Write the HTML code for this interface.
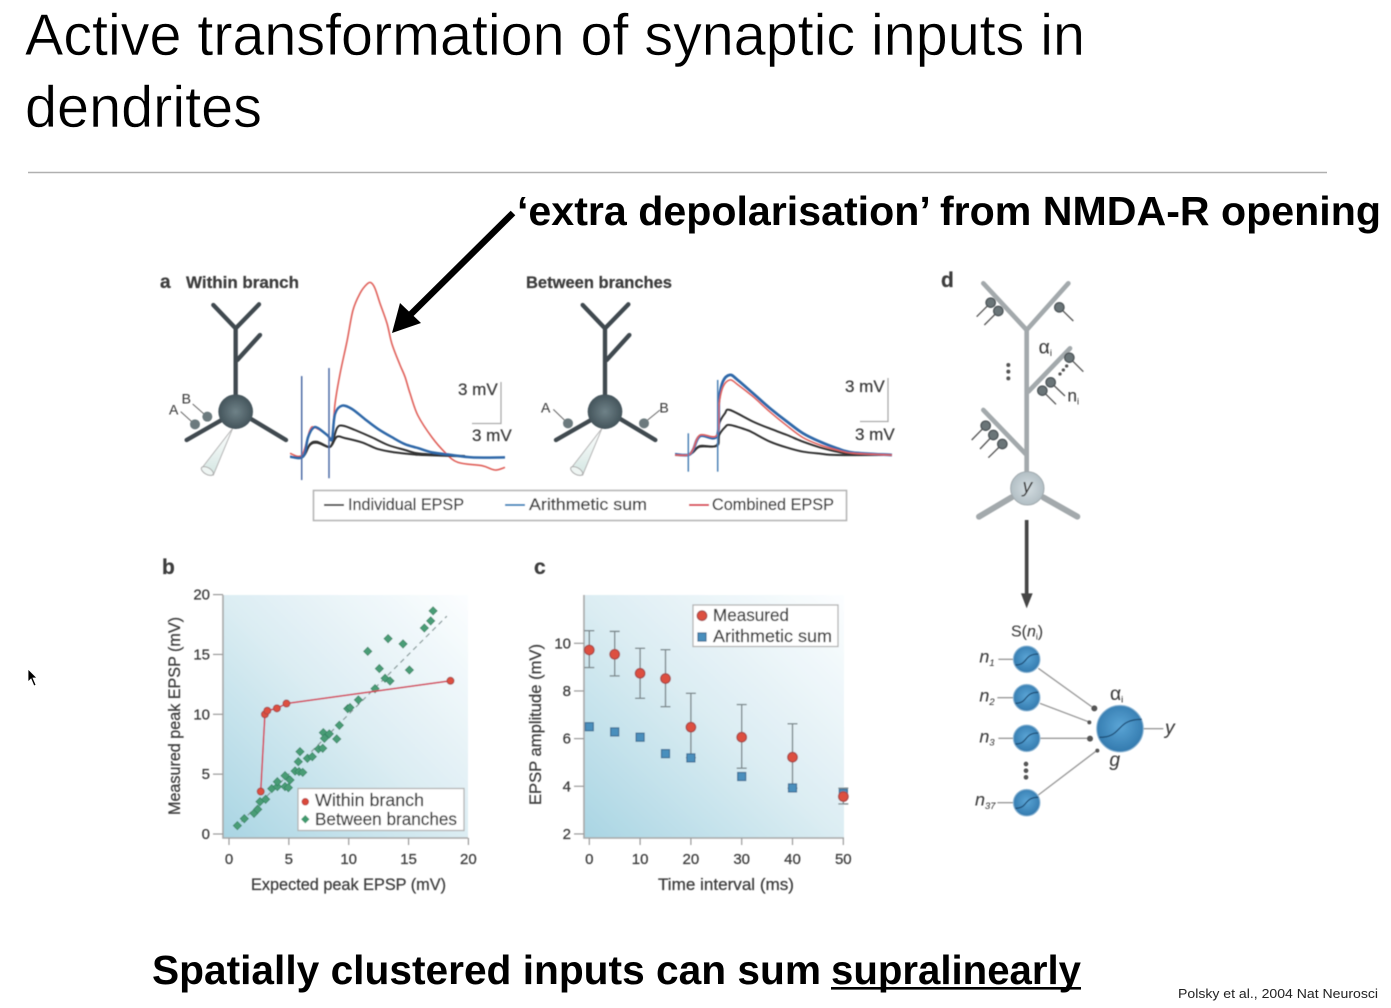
<!DOCTYPE html>
<html lang="en">
<head>
<meta charset="utf-8">
<title>Active transformation of synaptic inputs in dendrites</title>
<style>
html,body{margin:0;padding:0;background:#fff;width:1391px;height:1008px;overflow:hidden}
svg{display:block}
text{font-family:"Liberation Sans",sans-serif}
.fig text{fill:#3c3c3c;stroke:#3c3c3c;stroke-width:0.25px}
</style>
</head>
<body>
<svg id="slide" xmlns="http://www.w3.org/2000/svg" width="1391" height="1008" viewBox="0 0 1391 1008">
<defs>
  <linearGradient id="plotGrad" x1="0" y1="1" x2="1" y2="0">
    <stop offset="0" stop-color="#a9d5e3"/>
    <stop offset="0.22" stop-color="#c0e0ea"/>
    <stop offset="0.5" stop-color="#dcedf3"/>
    <stop offset="1" stop-color="#fcfeff"/>
  </linearGradient>
  <radialGradient id="somaDark" cx="0.5" cy="0.5" r="0.55">
    <stop offset="0" stop-color="#6f8288"/>
    <stop offset="1" stop-color="#3f4f56"/>
  </radialGradient>
  <radialGradient id="somaLight" cx="0.5" cy="0.5" r="0.55">
    <stop offset="0" stop-color="#d5dee2"/>
    <stop offset="1" stop-color="#aebbc1"/>
  </radialGradient>
  <radialGradient id="nodeBlue" cx="0.5" cy="0.45" r="0.6">
    <stop offset="0" stop-color="#5ba5d6"/>
    <stop offset="1" stop-color="#2f76aa"/>
  </radialGradient>
  <linearGradient id="pipette" x1="0" y1="0" x2="0" y2="1">
    <stop offset="0" stop-color="#ffffff"/>
    <stop offset="1" stop-color="#d4e6e2"/>
  </linearGradient>
  <filter id="soft" x="-5%" y="-5%" width="110%" height="110%"><feGaussianBlur stdDeviation="0.5"/></filter>
  <g id="neuron-shape">
    <g stroke="#3f4a50" stroke-width="13" stroke-linecap="round" fill="none">
      <path d="M257 455V205M190 135L257 205L327 133M262 300L330 225M215 480L110 540M300 475L408 540"/>
    </g>
    <polygon points="248,505 155,625 190,645" fill="url(#pipette)" stroke="#b5b5b5" stroke-width="3"/>
    <ellipse cx="172" cy="633" rx="20" ry="10" transform="rotate(30 172 633)" fill="#eef5f3" stroke="#aaa" stroke-width="3"/>
    <circle cx="257" cy="455" r="52" fill="url(#somaDark)"/>
  </g>
</defs>

<text x="25" y="55" font-size="58" fill="#000" stroke="#fff" stroke-width="0.5" textLength="1060" lengthAdjust="spacingAndGlyphs">Active transformation of synaptic inputs in</text>
<text x="25" y="127" font-size="58" fill="#000" stroke="#fff" stroke-width="0.5" textLength="237" lengthAdjust="spacingAndGlyphs">dendrites</text>
<line x1="28" y1="172.5" x2="1327" y2="172.5" stroke="#b0b0b0" stroke-width="1.6"/>

<text x="517" y="225" font-size="41" font-weight="bold" fill="#000" textLength="864" lengthAdjust="spacingAndGlyphs">‘extra depolarisation’ from NMDA-R opening</text>
<g>
  <line x1="513" y1="213" x2="408" y2="317" stroke="#000" stroke-width="6.5"/>
  <polygon points="392,333 400,303 421,323" fill="#000"/>
</g>

<g class="fig" filter="url(#soft)">

  <!-- Panel a -->
  <text x="160" y="288" font-size="19" font-weight="bold">a</text>
  <text x="186" y="288" font-size="17" font-weight="bold" textLength="113" lengthAdjust="spacingAndGlyphs">Within branch</text>
  <text x="526" y="288" font-size="17" font-weight="bold" textLength="146" lengthAdjust="spacingAndGlyphs">Between branches</text>

  <g transform="translate(150,260) scale(0.33333)">
    <use href="#neuron-shape"/>
    <path d="M92 455L125 485M128 432L162 462" stroke="#666" stroke-width="3" fill="none"/>
    <circle cx="135" cy="493" r="15" fill="#6c7a7e"/>
    <circle cx="172" cy="470" r="15" fill="#6c7a7e"/>
    <text x="57" y="464" font-size="42">A</text>
    <text x="95" y="430" font-size="42">B</text>
  </g>
  <g transform="translate(510,260) scale(0.33333) translate(28,0)">
    <use href="#neuron-shape"/>
    <path d="M102 448L135 480M422 450L385 480" stroke="#666" stroke-width="3" fill="none"/>
    <circle cx="146" cy="490" r="15" fill="#6c7a7e"/>
    <circle cx="374" cy="490" r="15" fill="#6c7a7e"/>
    <text x="65" y="458" font-size="42">A</text>
    <text x="420" y="458" font-size="42">B</text>
  </g>

  <g id="traces-within"></g>
  <g id="traces-between"></g>

  <g>
    <path d="M501 382V423.5H472" fill="none" stroke="#aaa" stroke-width="1.3"/>
    <text x="458" y="395" font-size="17">3 mV</text>
    <text x="472" y="441" font-size="17">3 mV</text>
  </g>
  <g>
    <path d="M888 378V421.5H860" fill="none" stroke="#aaa" stroke-width="1.3"/>
    <text x="845" y="392" font-size="17">3 mV</text>
    <text x="855" y="440" font-size="17">3 mV</text>
  </g>

  <g>
    <rect x="313.5" y="490.5" width="533" height="30" fill="#fff" stroke="#b4b4b4" stroke-width="1.6"/>
    <line x1="324" y1="505" x2="344" y2="505" stroke="#444" stroke-width="2"/>
    <text x="348" y="510" font-size="17" textLength="116" lengthAdjust="spacingAndGlyphs">Individual EPSP</text>
    <line x1="505" y1="505" x2="525" y2="505" stroke="#2d86bd" stroke-width="2"/>
    <text x="529" y="510" font-size="17" textLength="118" lengthAdjust="spacingAndGlyphs">Arithmetic sum</text>
    <line x1="689" y1="505" x2="709" y2="505" stroke="#d9384a" stroke-width="2"/>
    <text x="712" y="510" font-size="17" textLength="122" lengthAdjust="spacingAndGlyphs">Combined EPSP</text>
  </g>

  <!-- Panel b -->
  <text x="162" y="574" font-size="21" font-weight="bold">b</text>
  <rect x="223" y="595" width="245" height="243" fill="url(#plotGrad)"/>
  <g id="chart-b"></g>
  <text x="348.5" y="890" font-size="17" text-anchor="middle" textLength="195" lengthAdjust="spacingAndGlyphs">Expected peak EPSP (mV)</text>
  <text transform="translate(180,716) rotate(-90)" font-size="17" text-anchor="middle" textLength="198" lengthAdjust="spacingAndGlyphs">Measured peak EPSP (mV)</text>
  <g>
    <rect x="298" y="788.5" width="166" height="42" fill="#fff" stroke="#b4b4b4" stroke-width="1.3"/>
    <circle cx="305.3" cy="801.7" r="3.3" fill="#d9483b" stroke="#b43a3a" stroke-width="0.8"/>
    <text x="315" y="806" font-size="17.5" textLength="109" lengthAdjust="spacingAndGlyphs">Within branch</text>
    <rect x="-3" y="-3" width="6" height="6" transform="translate(305.3,819.3) rotate(45)" fill="#3f9a6e"/>
    <text x="315" y="825" font-size="17.5" textLength="142" lengthAdjust="spacingAndGlyphs">Between branches</text>
  </g>

  <!-- Panel c -->
  <text x="534" y="574" font-size="21" font-weight="bold">c</text>
  <rect x="584" y="595" width="260" height="243" fill="url(#plotGrad)"/>
  <g id="chart-c"></g>
  <text x="726" y="890" font-size="17" text-anchor="middle" textLength="136" lengthAdjust="spacingAndGlyphs">Time interval (ms)</text>
  <text transform="translate(541,724.5) rotate(-90)" font-size="17" text-anchor="middle" textLength="161" lengthAdjust="spacingAndGlyphs">EPSP amplitude (mV)</text>
  <g>
    <rect x="693" y="605" width="145" height="41.5" fill="#fff" stroke="#b4b4b4" stroke-width="1.3"/>
    <circle cx="702" cy="615.7" r="4.8" fill="#dd4f3f" stroke="#a84848" stroke-width="1.2"/>
    <text x="713" y="621" font-size="17.5" textLength="76" lengthAdjust="spacingAndGlyphs">Measured</text>
    <rect x="698" y="633" width="8" height="8" fill="#4a8fbd" stroke="#3c6f96" stroke-width="1.2"/>
    <text x="713" y="642" font-size="17.5" textLength="119" lengthAdjust="spacingAndGlyphs">Arithmetic sum</text>
  </g>

  <!-- Panel d upper -->
  <text x="941" y="287" font-size="21" font-weight="bold">d</text>
  <g transform="translate(930,260) scale(0.33333)">
    <path d="M290 640V210M160 70L290 210L415 70M295 395L420 265M290 585L160 450" stroke="#a3a9ac" stroke-width="14" fill="none" stroke-linecap="round" stroke-linejoin="round"/>
    <path d="M245 712L147 770M340 712L442 770" stroke="#a3a9ac" stroke-width="18" fill="none" stroke-linecap="round"/>
    <circle cx="292" cy="685" r="50" fill="url(#somaLight)" stroke="#a0a9ad" stroke-width="3"/>
    <text x="292" y="698" font-size="58" font-style="italic" text-anchor="middle">y</text>
    <g stroke="#555" stroke-width="4" fill="none">
      <path d="M182 128L140 170M205 153L163 195M388 142L430 183M418 293L460 335M362 367L405 408M337 392L378 433M167 497L125 540M190 525L150 567M217 552L175 593"/>
    </g>
    <g fill="#6b7478" stroke="#4d5558" stroke-width="4">
      <circle cx="182" cy="128" r="14"/><circle cx="205" cy="153" r="14"/><circle cx="388" cy="142" r="14"/>
      <circle cx="418" cy="293" r="14"/><circle cx="362" cy="367" r="14"/><circle cx="337" cy="392" r="14"/>
      <circle cx="167" cy="497" r="14"/><circle cx="190" cy="525" r="14"/><circle cx="217" cy="552" r="14"/>
    </g>
    <g fill="#555">
      <circle cx="235" cy="315" r="6"/><circle cx="235" cy="335" r="6"/><circle cx="235" cy="355" r="6"/>
      <circle cx="410" cy="318" r="5"/><circle cx="400" cy="330" r="5"/><circle cx="390" cy="342" r="5"/>
    </g>
    <text x="326" y="280" font-size="58">α<tspan font-size="28" dy="8">i</tspan></text>
    <text x="412" y="425" font-size="52">n<tspan font-size="28" dy="8">i</tspan></text>
  </g>

  <!-- Panel d lower -->
  <g transform="translate(960,540) scale(0.33333)">
    <line x1="200" y1="-60" x2="200" y2="165" stroke="#444" stroke-width="11"/>
    <polygon points="183,160 218,160 200,205" fill="#444"/>
    <text x="153" y="290" font-size="48">S(<tspan font-style="italic">n</tspan><tspan font-size="26" dy="8">i</tspan><tspan dy="-8">)</tspan></text>
    <g stroke="#9a9a9a" stroke-width="4" fill="none">
      <path d="M115 358H165M112 473H165M115 595H165M112 788H165"/>
      <path d="M235 385L395 500M240 490L385 545M240 595L385 595M235 765L410 632M550 566H610"/>
    </g>
    <circle cx="403" cy="505" r="9" fill="#555"/><circle cx="388" cy="547" r="6" fill="#555"/>
    <circle cx="390" cy="596" r="9" fill="#555"/><circle cx="412" cy="632" r="6" fill="#555"/>
    <g fill="url(#nodeBlue)" stroke="#8db8d6" stroke-width="3">
      <circle cx="200" cy="358" r="40"/><circle cx="200" cy="473" r="40"/><circle cx="200" cy="595" r="40"/><circle cx="200" cy="788" r="40"/>
      <circle cx="480" cy="566" r="70"/>
    </g>
    <g fill="none" stroke="#1f4f78" stroke-width="4">
      <path d="M166 375C205 375 190 342 235 342"/>
      <path d="M166 490C205 490 190 457 235 457"/>
      <path d="M166 612C205 612 190 579 235 579"/>
      <path d="M166 805C205 805 190 772 235 772"/>
      <path d="M418 592C490 592 465 538 545 538"/>
    </g>
    <g fill="#555"><circle cx="198" cy="672" r="7"/><circle cx="198" cy="692" r="7"/><circle cx="198" cy="712" r="7"/></g>
    <g font-size="54" font-style="italic">
      <text x="58" y="368">n<tspan font-size="28" dy="10">1</tspan></text>
      <text x="58" y="485">n<tspan font-size="28" dy="10">2</tspan></text>
      <text x="58" y="607">n<tspan font-size="28" dy="10">3</tspan></text>
      <text x="45" y="797">n<tspan font-size="28" dy="10">37</tspan></text>
      <text x="448" y="678" font-size="58">g</text>
      <text x="615" y="582" font-size="58">y</text>
    </g>
    <text x="450" y="480" font-size="58">α<tspan font-size="28" dy="8">i</tspan></text>
  </g>
</g>

<text x="152" y="984" font-size="41" font-weight="bold" fill="#000" textLength="669" lengthAdjust="spacingAndGlyphs">Spatially clustered inputs can sum</text>
<text x="831" y="984" font-size="41" font-weight="bold" fill="#000" textLength="250" lengthAdjust="spacingAndGlyphs">supralinearly</text>
<rect x="831" y="987" width="250" height="2.6" fill="#000"/>
<text x="1178" y="998" font-size="13" fill="#222" textLength="200" lengthAdjust="spacingAndGlyphs">Polsky et al., 2004 Nat Neurosci</text>

<polygon points="28,669 28,682 31,679 34,686 36,685 33,678 37,678" fill="#000" stroke="#fff" stroke-width="0.8"/>
</svg>

<script>
// ---- Panel a: within-branch traces (time units, mV from baseline)
const withinRedT = [0,12,20,25,37,42,45,50,57,63,70,77,81,85,90,97,102,110,115,120,128,142,155,168,192,205,215];
const withinRedV = [0.24,0.12,1.92,2.09,1.6,1.4,3.8,5.95,8.3,10.55,11.75,12.42,12.52,12.11,11.03,9.59,8.1,6.6,5.75,4.56,2.95,1.39,0.31,-0.41,-0.65,-0.96,-0.77];
const withinBlueT = [0,13,18,23,28,38,42,45,52,62,75,88,102,115,128,142,162,182,215];
const withinBlueV = [0,0,1.39,2.06,2.06,1.5,1.27,3.07,3.67,3.43,2.7,2.0,1.4,0.9,0.62,0.31,0.12,-0.05,-0.05];
const withinUpperT = [0,13,20,27,38,42,47,53,65,82,98,115,128,155,175];
const withinUpperV = [0,0,0.9,1.08,0.72,0.9,2.06,2.23,1.92,1.39,0.84,0.48,0.24,0.1,0.05];
const withinLowerT = [13,20,27,38,42,47,55,72,88,105,128,155,175];
const withinLowerV = [0,0.85,1.0,0.7,0.85,1.44,1.34,1.03,0.55,0.31,0.14,0.07,0.03];
// ---- Panel a: between-branches traces
const betweenBlueT = [0,13,18,25,42,44,48,55,62,78,95,112,128,145,162,178,217];
const betweenBlueV = [0.05,0,0.36,1.37,1.37,3.96,5.3,5.76,5.44,4.44,3.36,2.4,1.56,0.96,0.48,0.17,0];
const betweenRedT = [0,13,18,25,42,44,48,55,62,78,95,112,128,145,162,178,217];
const betweenRedV = [0,0,0.4,1.44,1.44,3.6,4.9,5.4,5.1,4.2,3.1,2.1,1.25,0.72,0.36,0.12,0];
const betweenUpperT = [0,13,18,25,42,44,50,55,78,95,112,128,145,162,178,217];
const betweenUpperV = [0,0,0.2,0.65,0.72,2.2,3.0,3.24,2.4,1.9,1.44,0.96,0.55,0.24,0.05,0];
const betweenLowerT = [13,18,25,42,44,50,55,72,78,95,112,128,145,162,217];
const betweenLowerV = [0,0.2,0.6,0.66,1.4,2.0,2.16,1.8,1.6,0.96,0.53,0.24,0.1,0,0];

// ---- Panel b data
const bTicks = [0,5,10,15,20];
const withinX = [2.65,3.0,3.2,4.0,4.8,18.5];
const withinY = [3.55,10.0,10.3,10.5,10.9,12.8];
const betweenX = [0.70,1.28,2.09,2.40,2.59,3.06,3.57,4.04,4.04,4.68,4.68,4.96,5.10,5.52,5.85,6.16,5.79,5.93,6.55,6.96,7.47,7.83,7.88,7.97,8.38,9.00,9.22,9.92,10.11,10.81,12.20,13.04,13.45,12.56,11.59,13.29,14.54,15.07,16.32,16.85,17.05];
const betweenY = [0.70,1.28,1.73,2.06,2.70,2.90,3.79,3.96,4.37,4.87,3.96,3.87,4.51,5.26,5.21,5.15,6.04,6.88,6.32,6.46,7.10,7.16,8.47,7.99,8.36,7.94,9.08,10.47,10.56,11.20,12.14,13.01,12.79,13.82,15.26,16.32,15.88,13.70,17.21,17.80,18.64];
const unityRange = [0.5,18.2];

// ---- Panel c data
const cXTicks = [0,10,20,30,40,50];
const cXLabels = ['0','10','20','30','40','50'];
const cYTicks = [2,4,6,8,10];
const intervals = [0,5,10,15,20,30,40,50];
const measured = [9.72,9.54,8.74,8.52,6.48,6.06,5.22,3.57];
const measuredHigh = [10.53,10.5,9.79,9.73,7.9,7.43,6.62,3.92];
const measuredLow = [8.98,8.63,7.69,7.34,5.2,4.76,3.92,3.26];
const arithmetic = [6.5,6.28,6.06,5.37,5.19,4.41,3.93,3.7];

const NS = 'http://www.w3.org/2000/svg';
function make(tag, parent, props) {
  const el = document.createElementNS(NS, tag);
  for (const k in props) el.setAttribute(k, props[k]);
  parent.appendChild(el);
  return el;
}

// Trace drawing: smooth curve through the sampled values
const traceColors = {red:'#e0605a', blue:'#2f68a8', black:'#333'};
function tracePath(parent, ts, vs, color, width, x0, y0, name) {
  const px = ts.map(t => x0 + t);
  const py = vs.map(v => y0 - v * 13.9);
  const n = px.length;
  let d = 'M' + px[0].toFixed(1) + ' ' + py[0].toFixed(1);
  for (let i = 0; i < n - 1; i++) {
    const a = Math.max(i - 1, 0), b = Math.min(i + 2, n - 1);
    const c1x = px[i] + (px[i + 1] - px[a]) / 6, c1y = py[i] + (py[i + 1] - py[a]) / 6;
    const c2x = px[i + 1] - (px[b] - px[i]) / 6, c2y = py[i + 1] - (py[b] - py[i]) / 6;
    d += 'C' + c1x.toFixed(1) + ' ' + c1y.toFixed(1) + ' ' + c2x.toFixed(1) + ' ' + c2y.toFixed(1) + ' ' + px[i + 1].toFixed(1) + ' ' + py[i + 1].toFixed(1);
  }
  const el = make('path', parent, {d: d, fill: 'none', stroke: color, 'stroke-width': width, 'stroke-linejoin': 'round'});
  
  
}
const gWithin = document.getElementById('traces-within');
tracePath(gWithin, withinRedT, withinRedV, traceColors.red, 1.6, 290, 456.7, 'within-combined-epsp');
tracePath(gWithin, withinUpperT, withinUpperV, traceColors.black, 2, 290, 456.7, 'within-individual-epsp-upper');
tracePath(gWithin, withinLowerT, withinLowerV, traceColors.black, 2, 290, 456.7, 'within-individual-epsp-lower');
tracePath(gWithin, withinBlueT, withinBlueV, traceColors.blue, 2.5, 290, 456.7, 'within-arithmetic-sum');
const stimWithinT = [11.7,39];
const stimWithinTop = [5.8,6.38];
const stimWithinBottom = [-1.68,-1.55];
stimWithinT.forEach((t, i) => {
  const l = make('line', gWithin, {x1: 290 + t, x2: 290 + t, y1: 456.7 - stimWithinTop[i] * 13.9, y2: 456.7 - stimWithinBottom[i] * 13.9, stroke: '#4c6aa5', 'stroke-width': 1.5});
  
  
});
const gBetween = document.getElementById('traces-between');
tracePath(gBetween, betweenUpperT, betweenUpperV, traceColors.black, 2, 675, 455, 'between-individual-epsp-upper');
tracePath(gBetween, betweenLowerT, betweenLowerV, traceColors.black, 2, 675, 455, 'between-individual-epsp-lower');
tracePath(gBetween, betweenBlueT, betweenBlueV, traceColors.blue, 2.8, 675, 455, 'between-arithmetic-sum');
tracePath(gBetween, betweenRedT, betweenRedV, traceColors.red, 1.5, 675, 455, 'between-combined-epsp');
const stimBetweenT = [13.3,42.7];
const stimBetweenTop = [1.56,5.4];
const stimBetweenBottom = [-1.2,-1.2];
stimBetweenT.forEach((t, i) => {
  const l = make('line', gBetween, {x1: 675 + t, x2: 675 + t, y1: 455 - stimBetweenTop[i] * 13.9, y2: 455 - stimBetweenBottom[i] * 13.9, stroke: '#4c80b5', 'stroke-width': 1.5});
  
  
});

// Panel b
const bx = v => 229 + v * 11.97;
const by = v => 834 - v * 11.97;
const gb = document.getElementById('chart-b');
const bAxis = make('path', gb, {d: 'M223 595V838H468', fill: 'none', stroke: '#a8a8a8', 'stroke-width': 1.6});


bTicks.forEach(v => {
  const t1 = make('line', gb, {x1: 213, x2: 223, y1: by(v), y2: by(v), stroke: '#999', 'stroke-width': 1.2});
  
  
  const l1 = make('text', gb, {x: 210, y: by(v) + 5, 'font-size': 15, 'text-anchor': 'end'});
  l1.textContent = v;
  
  
  const t2 = make('line', gb, {x1: bx(v), x2: bx(v), y1: 838, y2: 845, stroke: '#999', 'stroke-width': 1.2});
  
  
  const l2 = make('text', gb, {x: bx(v), y: 864, 'font-size': 15, 'text-anchor': 'middle'});
  l2.textContent = v;
  
  
});
const unity = make('line', gb, {x1: bx(unityRange[0]), y1: by(unityRange[0]), x2: bx(unityRange[1]), y2: by(unityRange[1]), stroke: '#8a9c9c', 'stroke-width': 1.3, 'stroke-dasharray': '5 4'});


betweenX.forEach((x, i) => {
  const d = make('rect', gb, {x: -3, y: -3, width: 6, height: 6, fill: '#4a9c76', stroke: '#2f8060', 'stroke-width': 0.6, transform: 'translate(' + bx(x) + ',' + by(betweenY[i]) + ') rotate(45)'});
  
  
});
const wl = make('polyline', gb, {points: withinX.map((x, i) => bx(x) + ',' + by(withinY[i])).join(' '), fill: 'none', stroke: '#d3455a', 'stroke-width': 1.6});


withinX.forEach((x, i) => {
  const c = make('circle', gb, {cx: bx(x), cy: by(withinY[i]), r: 3.5, fill: '#dd4f3f', stroke: '#a84848', 'stroke-width': 1});
  
  
});

// Panel c
const cx = v => 589.3 + v * 5.08;
const cy = v => 643.3 + (10 - v) * 23.83;
const gc = document.getElementById('chart-c');
const cAxis = make('path', gc, {d: 'M584 595V838H844', fill: 'none', stroke: '#a8a8a8', 'stroke-width': 1.6});


cYTicks.forEach(v => {
  const t = make('line', gc, {x1: 574, x2: 584, y1: cy(v), y2: cy(v), stroke: '#999', 'stroke-width': 1.2});
  
  
  const l = make('text', gc, {x: 571, y: cy(v) + 5, 'font-size': 15, 'text-anchor': 'end'});
  l.textContent = v;
  
  
});
cXTicks.forEach((v, i) => {
  const t = make('line', gc, {x1: cx(v), x2: cx(v), y1: 838, y2: 845, stroke: '#999', 'stroke-width': 1.2});
  
  
  const l = make('text', gc, {x: cx(v), y: 864, 'font-size': 15, 'text-anchor': 'middle'});
  l.textContent = cXLabels[i];
  
  
});
intervals.forEach((v, i) => {
  const e = make('path', gc, {d: 'M' + (cx(v) - 5) + ' ' + cy(measuredHigh[i]) + 'h10M' + cx(v) + ' ' + cy(measuredHigh[i]) + 'V' + cy(measuredLow[i]) + 'M' + (cx(v) - 5) + ' ' + cy(measuredLow[i]) + 'h10', fill: 'none', stroke: '#7e8a8e', 'stroke-width': 1.4});
  
  
});
intervals.forEach((v, i) => {
  const s = make('rect', gc, {x: cx(v) - 4, y: cy(arithmetic[i]) - 4, width: 8, height: 8, fill: '#4a8fbd', stroke: '#3c6f96', 'stroke-width': 1.2});
  
  
});
intervals.forEach((v, i) => {
  const c = make('circle', gc, {cx: cx(v), cy: cy(measured[i]), r: 4.8, fill: '#dd4f3f', stroke: '#a84848', 'stroke-width': 1.2});
  
  
});
</script>
</body>
</html>
